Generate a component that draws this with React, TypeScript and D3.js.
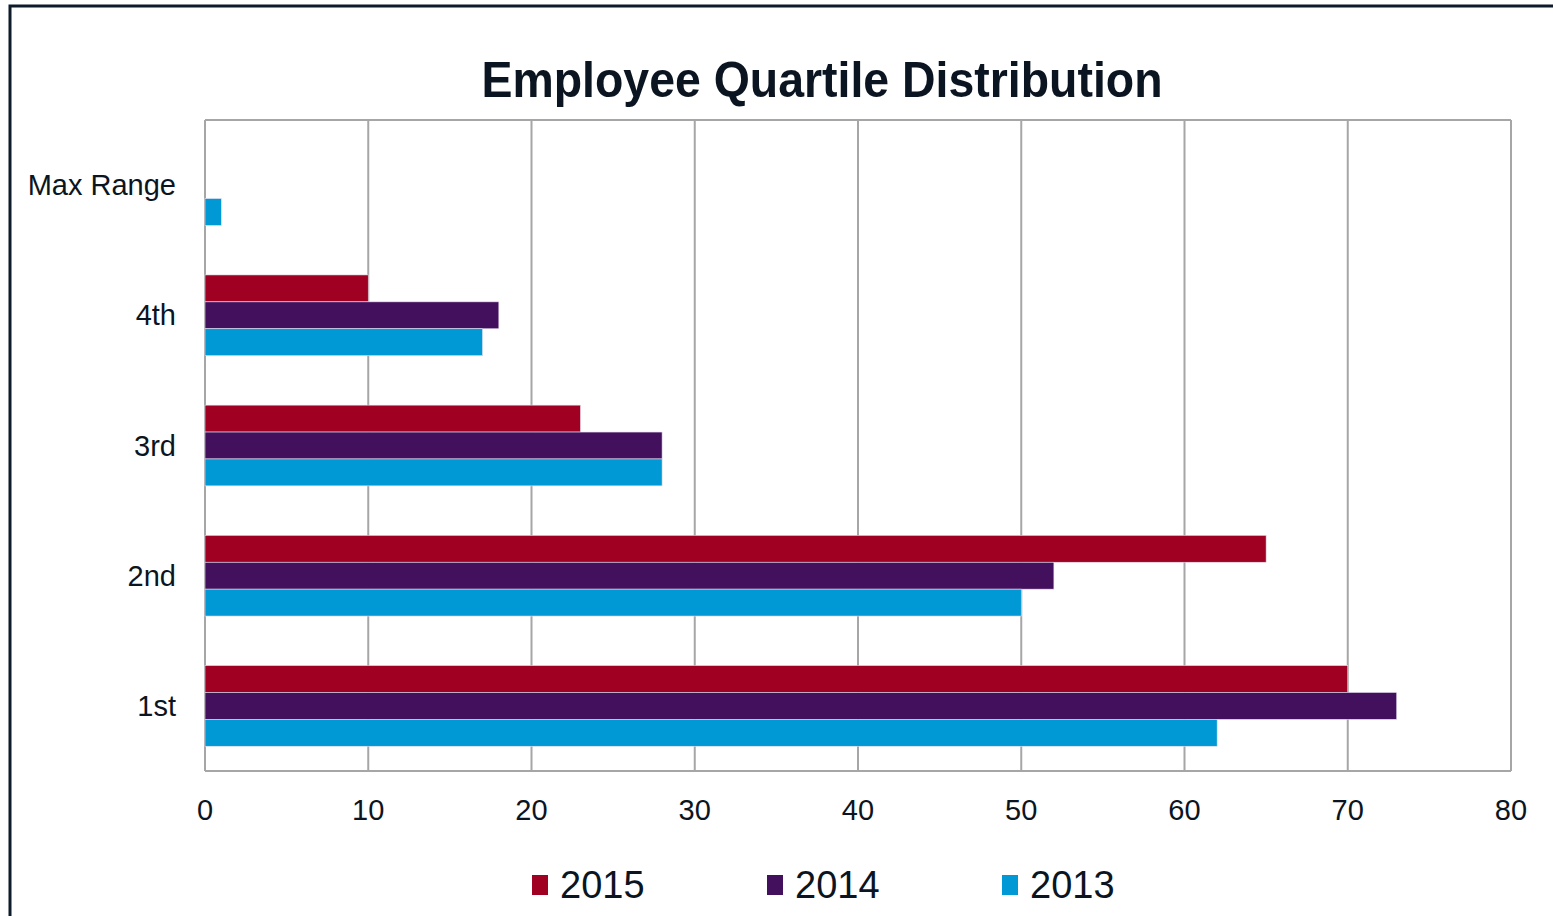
import React from "react";
import * as d3 from "d3";

const categories = ["Max Range", "4th", "3rd", "2nd", "1st"];
const seriesNames = ["2015", "2014", "2013"];
const values2015 = [0, 10, 23, 65, 70];
const values2014 = [0, 18, 28, 52, 73];
const values2013 = [1, 17, 28, 50, 62];
const colors = ["#A00021", "#42105C", "#0098D5"];
const xTicks = [0, 10, 20, 30, 40, 50, 60, 70, 80];

const W = 1553;
const H = 916;
const plot = { left: 205, right: 1511, top: 120, bottom: 771 };
const textColor = "#0b1521";
const font = "'Liberation Sans', Arial, sans-serif";

export default function App() {
  const x = d3.scaleLinear().domain([0, 80]).range([plot.left, plot.right]);
  const y = d3.scaleBand<string>().domain(categories).range([plot.top, plot.bottom]).paddingInner(0.38).paddingOuter(0.19);
  const inner = d3.scaleBand<string>().domain(seriesNames).range([0, y.bandwidth()]);
  const series = [values2015, values2014, values2013];

  return (
    <svg width={W} height={H} style={{ position: "absolute", left: 0, top: 0 }} fontFamily={font}>
      <rect x={0} y={0} width={W} height={H} fill="#fff" />
      {/* frame */}
      <path d={`M10,${H} L10,6 L${W},6`} fill="none" stroke="#0d1b2a" strokeWidth={3} />
      <text x={822} y={97} textAnchor="middle" fontSize={50} fontWeight="bold" fill={textColor} textLength={681} lengthAdjust="spacingAndGlyphs">
        Employee Quartile Distribution
      </text>
      {/* gridlines */}
      {xTicks.map((t) => (
        <line key={t} x1={x(t)} x2={x(t)} y1={plot.top} y2={plot.bottom} stroke="#a6a6a6" strokeWidth={2} />
      ))}
      <line x1={plot.left} x2={plot.right} y1={plot.top} y2={plot.top} stroke="#a6a6a6" strokeWidth={2} />
      <line x1={plot.left} x2={plot.right} y1={plot.bottom} y2={plot.bottom} stroke="#a6a6a6" strokeWidth={2} />
      {/* bars */}
      {series.map((vals, si) =>
        categories.map((c, ci) =>
          vals[ci] > 0 ? (
            <rect
              key={`${si}-${ci}`}
              x={x(0)}
              y={(y(c) as number) + (inner(seriesNames[si]) as number)}
              width={x(vals[ci]) - x(0)}
              height={inner.bandwidth()}
              fill={colors[si]}
              stroke="#e8e0f0"
              strokeWidth={0.6}
            />
          ) : null
        )
      )}
      {/* x tick labels */}
      {xTicks.map((t) => (
        <text key={t} x={x(t)} y={820} textAnchor="middle" fontSize={29} fill={textColor}>
          {t}
        </text>
      ))}
      {/* category labels */}
      {categories.map((c) => (
        <text key={c} x={176} y={(y(c) as number) + y.bandwidth() / 2 + 10} textAnchor="end" fontSize={29} fill={textColor}>
          {c}
        </text>
      ))}
      {/* legend */}
      {seriesNames.map((s, i) => {
        const lx = 532 + i * 235;
        return (
          <g key={s}>
            <rect x={lx} y={875} width={16} height={20} fill={colors[i]} />
            <text x={lx + 28} y={898} fontSize={38} fill={textColor}>
              {s}
            </text>
          </g>
        );
      })}
    </svg>
  );
}
